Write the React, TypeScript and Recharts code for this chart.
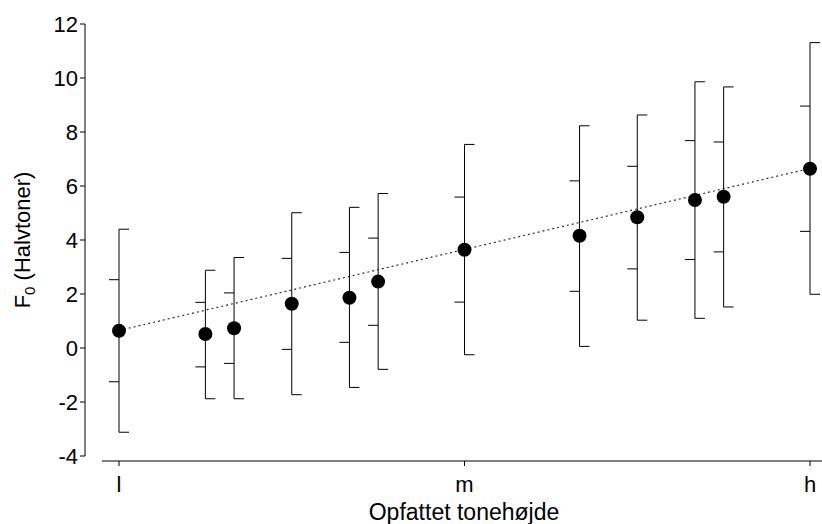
import React from "react";
import { ComposedChart, Scatter, Line, XAxis, YAxis, ErrorBar } from "recharts";

// x position of each stimulus between l (1), m (2) and h (3)
const positions = [1, 1.25, 1.333, 1.5, 1.667, 1.75, 2, 2.333, 2.5, 2.667, 2.75, 3];
const means = [0.64, 0.52, 0.73, 1.64, 1.86, 2.46, 3.64, 4.16, 4.84, 5.48, 5.6, 6.64];
const outerHigh = [4.4, 2.88, 3.35, 5.01, 5.21, 5.72, 7.54, 8.23, 8.63, 9.86, 9.67, 11.31];
const innerHigh = [2.53, 1.69, 2.04, 3.32, 3.54, 4.07, 5.59, 6.19, 6.73, 7.68, 7.63, 8.96];
const innerLow = [-1.25, -0.7, -0.57, -0.05, 0.21, 0.84, 1.7, 2.1, 2.93, 3.28, 3.56, 4.32];
const outerLow = [-3.12, -1.88, -1.88, -1.73, -1.46, -0.79, -0.25, 0.06, 1.03, 1.1, 1.52, 1.99];

const trendX = [1, 3];
const trendY = [0.65, 6.65];

const xTicks = [1, 2, 3];
const xTickLabels = ["l", "m", "h"];
const yTicks = [-4, -2, 0, 2, 4, 6, 8, 10, 12];

const FONT = "'Liberation Sans', Arial, sans-serif";

const pointRows = positions.map((x, i) => ({
  x,
  y: means[i],
  range: [means[i] - outerLow[i], outerHigh[i] - means[i]],
}));
const outerRows = positions.flatMap((x, i) => [
  { x, y: outerHigh[i] },
  { x, y: outerLow[i] },
]);
const innerRows = positions.flatMap((x, i) => [
  { x, y: innerHigh[i] },
  { x, y: innerLow[i] },
]);
const trendRows = trendX.map((x, i) => ({ x, y: trendY[i] }));

const capRight = (p: any) => (
  <line x1={p.cx} x2={p.cx + 10} y1={p.cy} y2={p.cy} stroke="#000" strokeWidth={1} />
);
const capLeft = (p: any) => (
  <line x1={p.cx - 10} x2={p.cx} y1={p.cy} y2={p.cy} stroke="#000" strokeWidth={1} />
);
const dot = (p: any) => <circle cx={p.cx} cy={p.cy} r={7} fill="#000" />;

const YTitle = (props: any) => {
  const vb = props.viewBox;
  const x = vb.x + 30;
  const y = vb.y + vb.height / 2;
  return (
    <text
      x={x}
      y={y}
      transform={`rotate(-90, ${x}, ${y})`}
      textAnchor="middle"
      fontSize={22}
      fontFamily={FONT}
      fill="#000"
    >
      F
      <tspan fontSize={15} dy={5}>
        0
      </tspan>
      <tspan dy={-5}> (Halvtoner)</tspan>
    </text>
  );
};

const XTitle = (props: any) => {
  const vb = props.viewBox;
  return (
    <text
      x={vb.x + vb.width / 2 + 2}
      y={vb.y + 59}
      textAnchor="middle"
      fontSize={23}
      fontFamily={FONT}
      fill="#000"
    >
      Opfattet tonehøjde
    </text>
  );
};

export default function App() {
  return (
    <div style={{ position: "absolute", left: 0, top: 0, background: "#fff" }}>
      <ComposedChart
        width={822}
        height={524}
        margin={{ top: 24, right: 0, bottom: 0, left: 0 }}
      >
        <XAxis
          xAxisId="gap"
          dataKey="x"
          type="number"
          domain={[1, 3]}
          height={5}
          tick={false}
          tickLine={false}
          axisLine={false}
        />
        <XAxis
          xAxisId="main"
          dataKey="x"
          type="number"
          domain={[1, 3]}
          ticks={xTicks}
          tickFormatter={(v: number) => xTickLabels[xTicks.indexOf(v)] ?? ""}
          padding={{ left: 17, right: 12 }}
          height={63}
          tickSize={5}
          tickMargin={10}
          stroke="#000"
          tick={{ fill: "#000", fontSize: 22, fontFamily: FONT }}
          label={<XTitle />}
        />
        <YAxis
          yAxisId="gap"
          dataKey="y"
          type="number"
          domain={[-4, 12]}
          width={17}
          tick={false}
          tickLine={false}
          axisLine={false}
        />
        <YAxis
          yAxisId="main"
          dataKey="y"
          type="number"
          domain={[-4, 12]}
          ticks={yTicks}
          width={85}
          tickSize={5}
          tickMargin={2}
          stroke="#000"
          tick={{ fill: "#000", fontSize: 22, fontFamily: FONT }}
          label={<YTitle />}
        />
        <Line
          xAxisId="main"
          yAxisId="main"
          data={trendRows}
          dataKey="y"
          type="linear"
          stroke="#333"
          strokeWidth={1.2}
          strokeDasharray="2 3"
          dot={false}
          activeDot={false}
          isAnimationActive={false}
        />
        <Scatter
          xAxisId="main"
          yAxisId="main"
          data={pointRows}
          shape={() => null}
          isAnimationActive={false}
        >
          <ErrorBar
            dataKey="range"
            direction="y"
            width={0}
            stroke="#000"
            strokeWidth={1}
            isAnimationActive={false}
          />
        </Scatter>
        <Scatter
          xAxisId="main"
          yAxisId="main"
          data={outerRows}
          shape={capRight}
          isAnimationActive={false}
        />
        <Scatter
          xAxisId="main"
          yAxisId="main"
          data={innerRows}
          shape={capLeft}
          isAnimationActive={false}
        />
        <Scatter
          xAxisId="main"
          yAxisId="main"
          data={pointRows}
          shape={dot}
          isAnimationActive={false}
        />
      </ComposedChart>
    </div>
  );
}
